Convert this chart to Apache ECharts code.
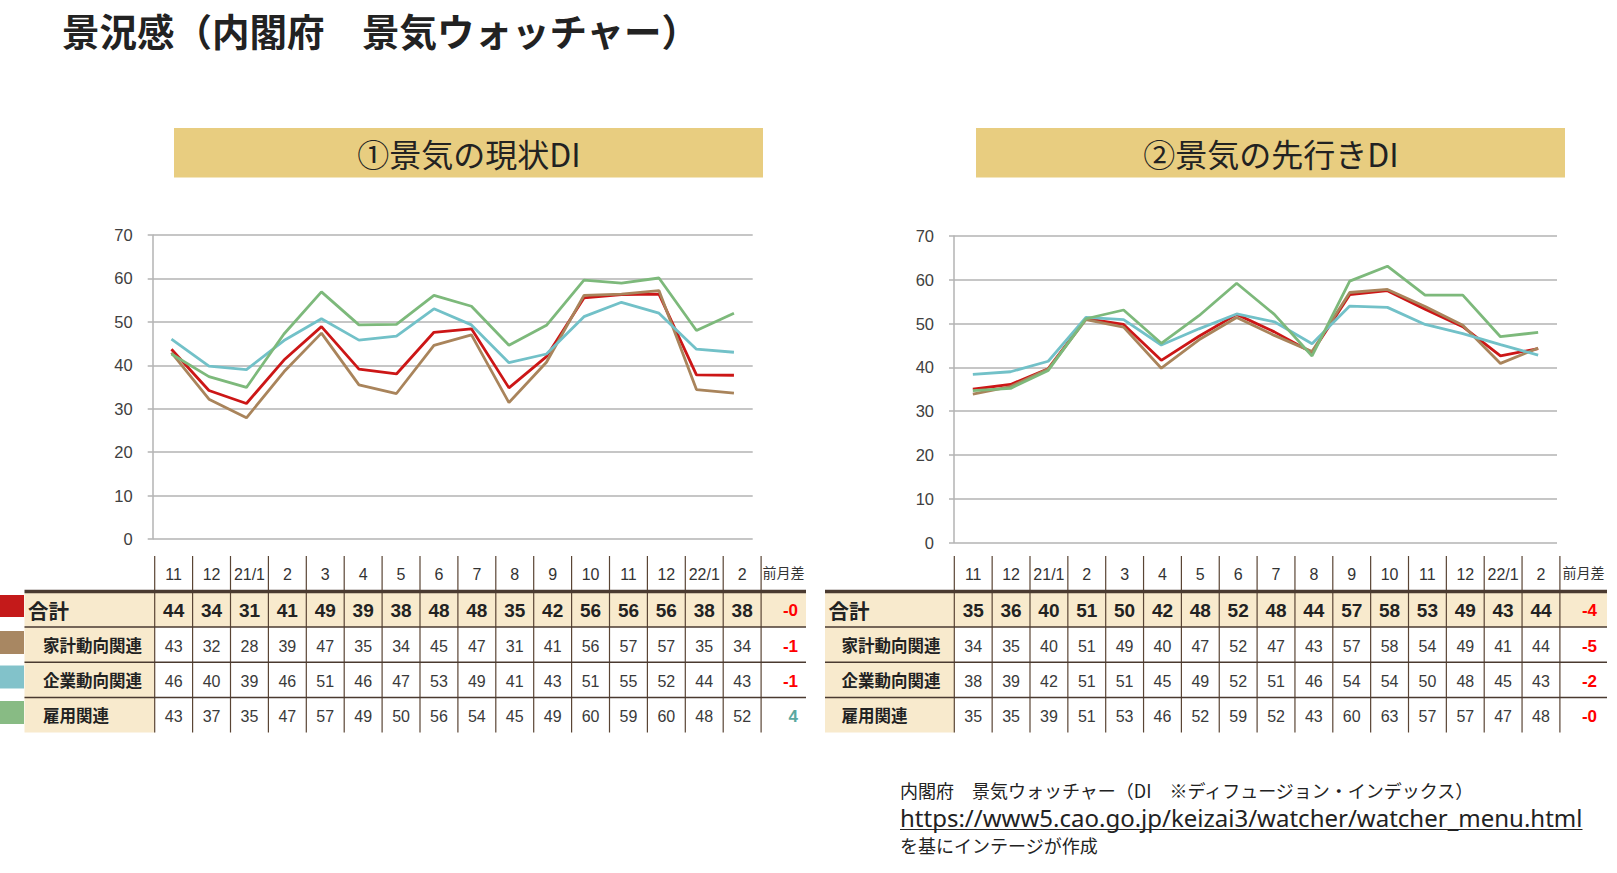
<!DOCTYPE html>
<html><head><meta charset="utf-8">
<script src="https://cdn.jsdelivr.net/npm/echarts@6/dist/echarts.min.js"></script>
<style>html,body{margin:0;padding:0;background:#fff}#c{width:1617px;height:873px}</style>
</head><body><div id="c"></div>
<script>
// ---------- data ----------
const months = ['11','12','21/1','2','3','4','5','6','7','8','9','10','11','12','22/1','2'];
const rowNames = ['合計','家計動向関連','企業動向関連','雇用関連'];
const yTicks = [0,10,20,30,40,50,60,70];
const titleText = '景況感（内閣府　景気ウォッチャー）';
const panelTitles = ['①景気の現状DI','②景気の先行きDI'];
const diffHeader = '前月差';
const sourceLines = ['内閣府　景気ウォッチャー（DI　※ディフュージョン・インデックス）','https://www5.cao.go.jp/keizai3/watcher/watcher_menu.html','を基にインテージが作成'];

// ① current DI – plotted lines
const curTotal      = [43.7,34.2,31.2,41.2,48.9,39.1,38.0,47.6,48.4,34.8,42.0,55.5,56.3,56.4,37.8,37.7];
const curHousehold  = [42.9,32.2,27.9,38.5,47.4,35.5,33.5,44.6,47.0,31.4,40.7,56.1,56.4,57.2,34.4,33.6];
const curCorporate  = [46.0,39.8,39.0,45.7,50.7,45.8,46.7,53.0,49.3,40.6,42.6,51.2,54.5,52.0,43.7,43.0];
const curEmployment = [42.6,37.4,34.9,47.2,56.9,49.3,49.4,56.1,53.6,44.6,49.2,59.6,58.9,60.1,48.0,52.0];
// ② outlook DI – plotted lines
const fwdTotal      = [35.0,36.1,39.7,51.1,49.8,41.6,47.1,52.1,48.1,43.4,56.6,57.5,53.3,49.3,42.6,44.3];
const fwdHousehold  = [33.9,35.6,39.6,50.9,49.2,39.8,46.3,51.4,47.3,43.6,57.1,57.8,53.9,49.6,40.9,44.4];
const fwdCorporate  = [38.4,39.0,41.4,51.4,50.9,45.1,48.8,52.2,50.4,45.4,54.0,53.7,49.8,47.7,45.2,42.8];
const fwdEmployment = [34.7,35.2,39.3,51.1,53.1,45.5,51.8,59.2,52.1,42.6,59.7,63.1,56.5,56.5,47.0,48.0];

// table values
const curTotalTbl      = [44,34,31,41,49,39,38,48,48,35,42,56,56,56,38,38];
const curHouseholdTbl  = [43,32,28,39,47,35,34,45,47,31,41,56,57,57,35,34];
const curCorporateTbl  = [46,40,39,46,51,46,47,53,49,41,43,51,55,52,44,43];
const curEmploymentTbl = [43,37,35,47,57,49,50,56,54,45,49,60,59,60,48,52];
const curDiff = ['-0','-1','-1','4'];
const fwdTotalTbl      = [35,36,40,51,50,42,48,52,48,44,57,58,53,49,43,44];
const fwdHouseholdTbl  = [34,35,40,51,49,40,47,52,47,43,57,58,54,49,41,44];
const fwdCorporateTbl  = [38,39,42,51,51,45,49,52,51,46,54,54,50,48,45,43];
const fwdEmploymentTbl = [35,35,39,51,53,46,52,59,52,43,60,63,57,57,47,48];
const fwdDiff = ['-4','-5','-2','-0'];

// ---------- styles ----------
const lineColors = ['#CC1616','#A9845B','#72C1C8','#7DB97B'];
const legendColors = ['#C41A1A','#A88762','#82C2CA','#88BB84'];
const beige = '#F8EACD';
const gold = '#E8CD80';
const brownLine = '#4A3A30';
const gridGray = '#B3B3B3';
const numFont = "'Liberation Sans', Arial, sans-serif";
const jpFont = "'Noto Sans CJK JP', 'Noto Sans', sans-serif";

const chart = echarts.init(document.getElementById('c'), null, {renderer:'svg', width:1617, height:873});

function txt(text, x, y, opt) {
  return {type:'text', silent:true, z:10, style:Object.assign({
    text:text, x:x, y:y, fill:'#333', fontSize:16, fontFamily:numFont,
    align:'center', textAlign:'center', verticalAlign:'middle', textVerticalAlign:'middle'
  }, opt||{})};
}
function rect(x,y,w,h,fill){ return {type:'rect', silent:true, z:1, shape:{x:x,y:y,width:w,height:h}, style:{fill:fill}}; }
function hline(x1,x2,y,w,c){ return {type:'line', silent:true, z:5, shape:{x1:x1,y1:y,x2:x2,y2:y}, style:{stroke:c,lineWidth:w}}; }
function vline(x,y1,y2,w,c){ return {type:'line', silent:true, z:5, shape:{x1:x,y1:y1,x2:x,y2:y2}, style:{stroke:c,lineWidth:w}}; }

// table layout
const rowCenters = [609.5, 645, 680, 715];
const legendBoxes = [[595,22],[631,23],[665.5,23],[701,23]];
function buildTable(g, rows, diffs) {
  const els = [];
  const colEnd = g.colX0 + g.pitch*months.length;
  els.push(rect(g.labelX, 593, g.rightX-g.labelX, 34, beige));
  els.push(rect(g.labelX, 627, g.colX0-g.labelX, 105.5, beige));
  for (let i=0;i<=months.length;i++) els.push(vline(g.colX0+i*g.pitch, 556, 732.5, 1.2, '#5A4535'));
  els.push(hline(g.labelX, g.rightX, 591.5, 3.5, brownLine));
  [627, 662.3, 697.5].forEach(y=>els.push(hline(g.labelX, g.rightX, y, 1.5, brownLine)));
  months.forEach((m,i)=>els.push(txt(m, g.colX0+(i+0.5)*g.pitch, 574, {fontSize:16, fill:'#333'})));
  els.push(txt(diffHeader, (colEnd+g.rightX)/2, 572, {fontSize:14, fontFamily:jpFont, fill:'#333'}));
  rows.forEach((vals,r)=>{
    const y = rowCenters[r];
    const isTotal = r===0;
    els.push(txt(rowNames[r], isTotal ? g.labelX+3.5 : g.labelX+g.indent, y,
      {fontSize:isTotal?20.5:16.5, fontWeight:'bold', fontFamily:jpFont, fill:'#222', align:'left', textAlign:'left'}));
    vals.forEach((v,i)=>els.push(txt(String(v), g.colX0+(i+0.5)*g.pitch, y+1,
      isTotal ? {fontSize:19, fontWeight:'bold', fill:'#222'} : {fontSize:16, fill:'#3a3a3a'})));
    const d = diffs[r];
    els.push(txt(d, g.diffRight, y+1, {fontSize:17, fontWeight:'bold', align:'right', textAlign:'right',
      fill: d.charAt(0)==='-' ? '#FF0000' : '#5BA8A0'}));
    if (g.legend) els.push(rect(0, legendBoxes[r][0], 24, legendBoxes[r][1], legendColors[r]));
  });
  return els;
}

const leftGeom  = {labelX:24.5, colX0:154.7, pitch:37.9, rightX:806, indent:18.5, diffRight:798, legend:true};
const rightGeom = {labelX:825, colX0:954.3, pitch:37.85, rightX:1607, indent:16.5, diffRight:1597, legend:false};

const graphics = [];
graphics.push(txt(titleText, 62, 29, {fontSize:37.5, fontWeight:'bold', fontFamily:jpFont, fill:'#222', align:'left', textAlign:'left'}));
graphics.push(rect(174, 128, 589, 49.5, gold));
graphics.push(rect(976, 128, 589, 49.5, gold));
graphics.push(txt(panelTitles[0], 469, 153, {fontSize:32, fontFamily:jpFont, fill:'#222'}));
graphics.push(txt(panelTitles[1], 1271, 153, {fontSize:32, fontFamily:jpFont, fill:'#222'}));
graphics.push(...buildTable(leftGeom, [curTotalTbl,curHouseholdTbl,curCorporateTbl,curEmploymentTbl], curDiff));
graphics.push(...buildTable(rightGeom, [fwdTotalTbl,fwdHouseholdTbl,fwdCorporateTbl,fwdEmploymentTbl], fwdDiff));

// source notes
const urlFont = "24px 'Noto Sans'";
const cv = document.createElement('canvas').getContext('2d'); cv.font = urlFont;
const urlW = cv.measureText(sourceLines[1]).width;
graphics.push(txt(sourceLines[0], 900, 790, {fontSize:18, lineHeight:18, fontFamily:jpFont, fill:'#222', align:'left', textAlign:'left'}));
graphics.push(txt(sourceLines[1], 900, 817, {fontSize:24, lineHeight:22, fontFamily:"'Noto Sans'", fill:'#222', align:'left', textAlign:'left'}));
graphics.push(hline(900, 900+urlW, 829.5, 1.2, '#222'));
graphics.push(txt(sourceLines[2], 900, 845, {fontSize:18, lineHeight:18, fontFamily:jpFont, fill:'#222', align:'left', textAlign:'left'}));

function yAxis(i){
  return {type:'value', gridIndex:i, min:yTicks[0], max:yTicks[yTicks.length-1], interval:yTicks[1]-yTicks[0],
    axisLine:{show:true, lineStyle:{color:gridGray, width:1.5}},
    axisTick:{show:true, length:5, lineStyle:{color:gridGray, width:1.5}},
    splitLine:{show:true, lineStyle:{color:gridGray, width:1.5}},
    axisLabel:{margin:20, fontSize:16.5, color:'#404040', fontFamily:numFont}};
}
function xAxis(i){
  return {type:'category', gridIndex:i, data:months, boundaryGap:true,
    axisLine:{show:false}, axisTick:{show:false}, axisLabel:{show:false}, splitLine:{show:false}};
}
function lines(idx, arrs){
  return arrs.map((d,k)=>({type:'line', name:rowNames[k], xAxisIndex:idx, yAxisIndex:idx, data:d,
    symbol:'none', lineStyle:{color:lineColors[k], width:2.8}, itemStyle:{color:lineColors[k]}, z:3}));
}

chart.setOption({
  animation:false,
  backgroundColor:'#ffffff',
  grid:[{left:152.7, top:235, width:600, height:304}, {left:954, top:236, width:603, height:306.5}],
  xAxis:[xAxis(0), xAxis(1)],
  yAxis:[yAxis(0), yAxis(1)],
  series:[...lines(0,[curTotal,curHousehold,curCorporate,curEmployment]),
          ...lines(1,[fwdTotal,fwdHousehold,fwdCorporate,fwdEmployment])],
  graphic:graphics
});
</script></body></html>
